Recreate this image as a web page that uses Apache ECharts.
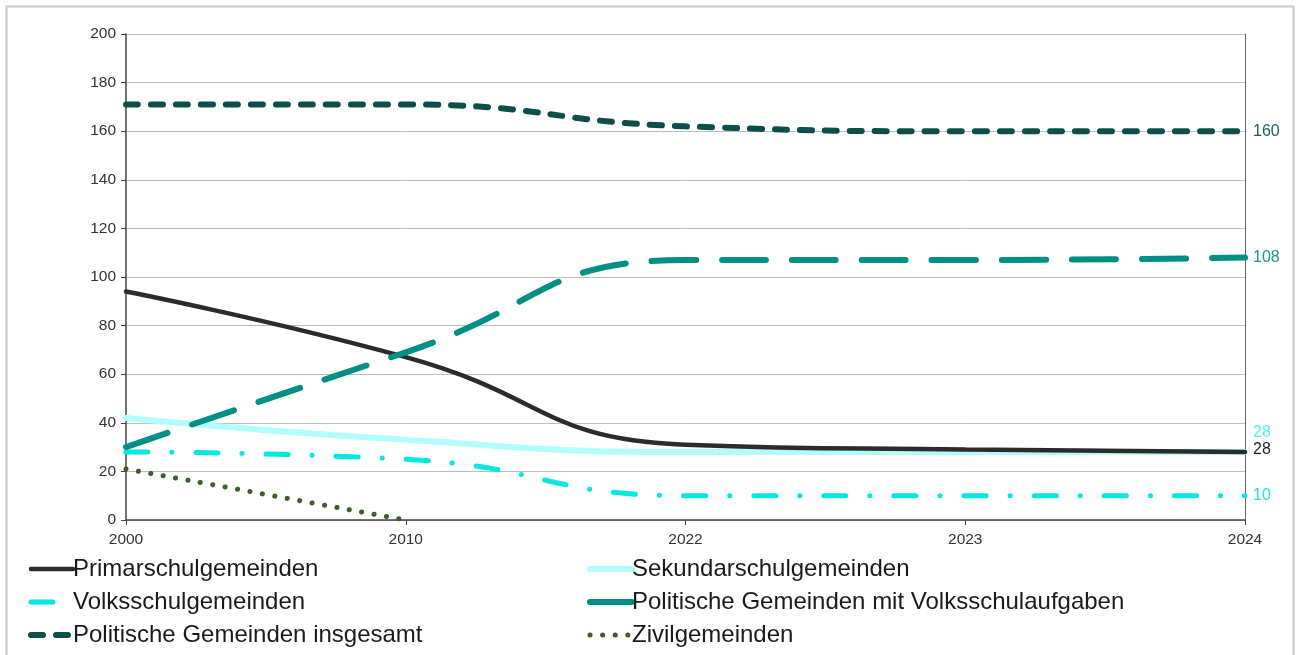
<!DOCTYPE html>
<html>
<head>
<meta charset="utf-8">
<script src="https://cdn.jsdelivr.net/npm/echarts@6/dist/echarts.min.js"></script>
<style>
  html, body { margin: 0; padding: 0; background: #fff; }
  #chart { width: 1301px; height: 655px; }
</style>
</head>
<body>
<div id="chart"></div>
<script>
// Jahre (Kategorien)
const years = ['2000', '2010', '2022', '2023', '2024'];

// Werte je Gemeindeart
const primar = [94, 67, 31, 29, 28];
const sekundar = [42, 33, 28, 28, 28];
const volksschul = [28, 25, 10, 10, 10];
const politischMitVS = [30, 69, 107, 107, 108];
const politischTotal = [171, 171, 162, 160, 160];
const zivil = [21, 0, null, null, null];

const chart = echarts.init(document.getElementById('chart'));

const font = 'Liberation Sans, Arial, sans-serif';

// Endbeschriftung rechts neben der Linie
function endLabel(color, dy) {
  return {
    show: true,
    formatter: '{c}',
    color: color,
    fontFamily: font,
    fontSize: 16,
    distance: 8,
    offset: [0, dy || 0]
  };
}

function line(name, data, color, width, type, z, label) {
  return {
    name: name,
    type: 'line',
    data: data,
    smooth: 0.5,
    symbol: 'none',
    z: z,
    lineStyle: { color: color, width: width, type: type, cap: 'round' },
    itemStyle: { color: color },
    endLabel: label
  };
}

const legendBase = {
  orient: 'vertical',
  top: 552,
  itemWidth: 42,
  itemHeight: 12,
  itemGap: 9,
  itemStyle: { opacity: 0 },
  lineStyle: { width: 'inherit', type: 'inherit', cap: 'inherit' },
  textStyle: { color: '#1a1a1a', fontFamily: font, fontSize: 24, padding: [0, 0, 0, -5] }
};

const option = {
  animation: false,
  graphic: [{
    type: 'rect',
    shape: { x: 6.5, y: 6.5, width: 1287, height: 700 },
    style: { fill: 'none', stroke: '#c8c8c8', lineWidth: 2 },
    silent: true
  }],
  grid: { left: 126, right: 56, top: 34, bottom: 135 },
  xAxis: {
    type: 'category',
    data: years,
    boundaryGap: false,
    axisLine: { lineStyle: { color: '#444', width: 1.5 } },
    axisTick: { show: true, length: 5, lineStyle: { color: '#444' } },
    axisLabel: { color: '#333', fontFamily: font, fontSize: 15.5, margin: 12 }
  },
  yAxis: [{
    type: 'value',
    min: 0,
    max: 200,
    interval: 20,
    axisLine: { show: true, lineStyle: { color: '#444', width: 1.5 } },
    axisTick: { show: true, length: 5, inside: false, lineStyle: { color: '#444' } },
    axisLabel: { color: '#333', fontFamily: font, fontSize: 15.5, margin: 10 },
    splitLine: { lineStyle: { color: '#bdbdbd', width: 1 } }
  }, {
    type: 'value',
    position: 'right',
    min: 0,
    max: 200,
    interval: 20,
    axisLine: { show: true, lineStyle: { color: '#666', width: 1 } },
    axisTick: { show: false },
    axisLabel: { show: false },
    splitLine: { show: false }
  }],
  legend: [Object.assign({}, legendBase, {
    left: 23,
    data: ['Primarschulgemeinden', 'Volksschulgemeinden', 'Politische Gemeinden insgesamt']
  }), Object.assign({}, legendBase, {
    left: 582,
    data: ['Sekundarschulgemeinden', 'Politische Gemeinden mit Volksschulaufgaben', 'Zivilgemeinden']
  })],
  series: [
    line('Sekundarschulgemeinden', sekundar, '#b2fcfb', 6, 'solid', 2,
      endLabel('#55f0ee', -19)),
    line('Primarschulgemeinden', primar, '#2b2b2b', 4.5, 'solid', 3,
      endLabel('#222', -2)),
    line('Volksschulgemeinden', volksschul, '#00e8e0', 5, [22, 24, 0.1, 24], 3,
      endLabel('#1fe3dc', 0)),
    line('Politische Gemeinden mit Volksschulaufgaben', politischMitVS, '#008f85', 6, [44, 26], 3,
      endLabel('#129a90', 0)),
    line('Politische Gemeinden insgesamt', politischTotal, '#0a4f49', 6, [12, 13], 3,
      endLabel('#1d5d58', 0)),
    line('Zivilgemeinden', zivil, '#3c5f28', 5, [0.1, 12.5], 3, { show: false })
  ]
};

chart.setOption(option);
</script>
</body>
</html>
